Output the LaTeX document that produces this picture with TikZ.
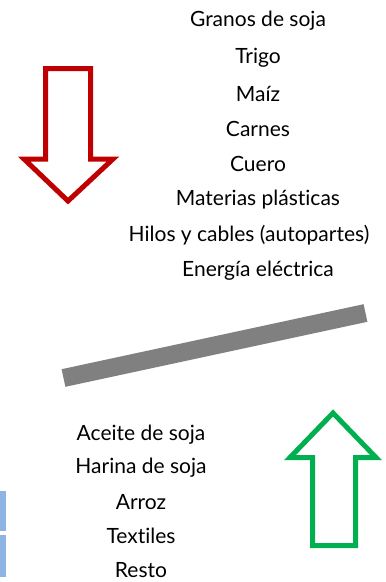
\documentclass[tikz,border=0pt]{standalone}
\usepackage{fontspec}
\setmainfont{Lato}[Ligatures={NoCommon}]
\definecolor{redarrow}{HTML}{C00000}
\definecolor{greenarrow}{HTML}{00B050}
\definecolor{barblue}{HTML}{8DB4E2}
\definecolor{bargray}{HTML}{808080}
\begin{document}
\begin{tikzpicture}[x=1pt,y=-1pt,
  item/.style={inner sep=0pt,anchor=center,font=\fontsize{21}{23}\selectfont},
  arrowshape/.style={line width=5pt,line join=miter,fill=white}]
\useasboundingbox (0,0) rectangle (386,582);
% top list
\node[item] (g1) at (258,21) {Granos de soja};
\node[item] (g2) at (258,58) {Trigo};
\node[item] (g3) at (258,94) {Maíz};
\node[item] (g4) at (258,129) {Carnes};
\node[item] (g5) at (258,164) {Cuero};
\node[item] (g6) at (258,200) {Materias plásticas};
\node[item] (g7) at (249,235) {Hilos y cables (autopartes)};
\node[item] (g8) at (258,271) {Energía eléctrica};
% bottom list
\node[item] (b1) at (141,435) {Aceite de soja};
\node[item] (b2) at (141,468) {Harina de soja};
\node[item] (b3) at (141,502) {Arroz};
\node[item] (b4) at (141,536) {Textiles};
\node[item] (b5) at (141,570) {Resto};
% red arrow (down)
\draw[arrowshape,draw=redarrow] (45.5,68.5) -- (90.5,68.5) -- (90.5,159) -- (113,159) -- (68,201) -- (24,159) -- (45.5,159) -- cycle;
% green arrow (up)
\draw[arrowshape,draw=greenarrow] (312.5,545.5) -- (355.5,545.5) -- (355.5,457.5) -- (376,457.5) -- (333,413) -- (290,457.5) -- (312.5,457.5) -- cycle;
% gray bar
\draw[line width=18pt,bargray] (63.5,378) -- (365.5,313);
% blue bars at left edge
\fill[barblue] (0,491) rectangle (6,531);
\fill[barblue] (0,535) rectangle (6,577);
\end{tikzpicture}
\end{document}
